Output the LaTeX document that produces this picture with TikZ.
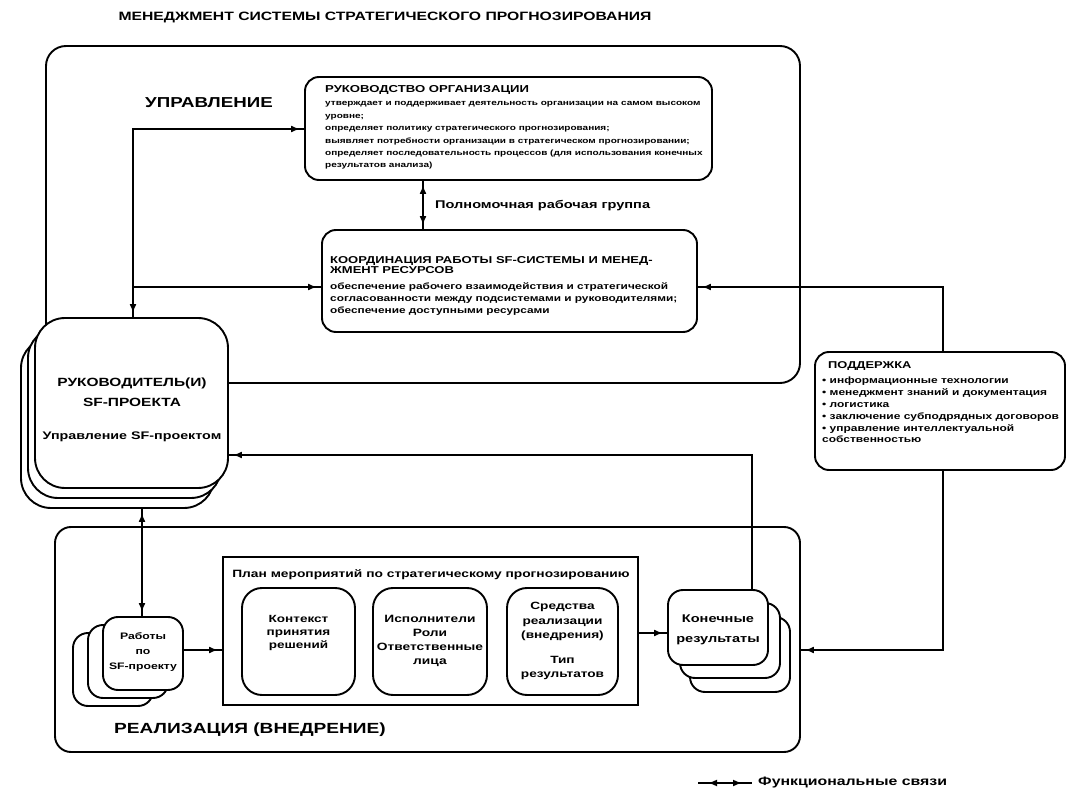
\documentclass[tikz,border=0pt]{standalone}
\usepackage{fontspec}
\setmainfont{Liberation Sans}[FakeStretch=1.3]
\usetikzlibrary{arrows.meta,decorations.markings}
\newcommand{\fs}[2]{\fontsize{#1}{#2}\selectfont}
\tikzset{
  frame/.style={draw, line width=1.9pt, rounded corners=#1, fill=white, inner sep=0pt},
  frame/.default=14pt,
  txt/.style={inner sep=0pt, font=\bfseries},
  tipA/.tip={Latex[length=9pt,width=7pt]},
  aend/.style={decoration={markings, mark=at position -4pt with {\arrow{tipA}}}, postaction={decorate}},
  astart/.style={decoration={markings, mark=at position 4pt with {\arrowreversed{tipA}}}, postaction={decorate}},
  aboth/.style={decoration={markings, mark=at position 4pt with {\arrowreversed{tipA}}, mark=at position -4pt with {\arrow{tipA}}}, postaction={decorate}},
  alegend/.style={decoration={markings, mark=at position 10pt with {\arrowreversed{tipA}}, mark=at position -10pt with {\arrow{tipA}}}, postaction={decorate}},
  conn/.style={draw, line width=1.8pt},
}
\begin{document}
\begin{tikzpicture}[x=1pt,y=-1pt]
\useasboundingbox (0,0) rectangle (1069,794);
\fill[white] (0,0) rectangle (1069,794);

% containers
\node[frame=20pt, minimum width=754pt, minimum height=337pt] (upper) at (423,214.5) {};
\node[frame=16pt, minimum width=745pt, minimum height=225pt] (lower) at (427.5,639.5) {};

% title and section labels
\node[txt, font=\bfseries\fs{12.1}{14}] (title) at (385,17) {МЕНЕДЖМЕНТ СИСТЕМЫ СТРАТЕГИЧЕСКОГО ПРОГНОЗИРОВАНИЯ};
\node[txt, font=\bfseries\fs{14.4}{16}] (upr) at (209,103) {УПРАВЛЕНИЕ};
\node[txt, font=\bfseries\fs{14.7}{16}] (real) at (250,730) {РЕАЛИЗАЦИЯ (ВНЕДРЕНИЕ)};

% box 1
\node[frame, minimum width=407pt, minimum height=103pt] (b1) at (508.5,128.5) {};
\node[txt, anchor=west, font=\bfseries\fs{10.1}{12}] (b1h) at (325,90) {РУКОВОДСТВО ОРГАНИЗАЦИИ};
\node[txt, anchor=north west, align=left, font=\bfseries\fs{7.7}{12.4}] (b1t) at (325,101.5) {утверждает и поддерживает деятельность организации на самом высоком\\
уровне;\\
определяет политику стратегического прогнозирования;\\
выявляет потребности организации в стратегическом прогнозировании;\\
определяет последовательность процессов (для использования конечных\\
результатов анализа)};

% box 2
\node[frame, minimum width=375pt, minimum height=102pt] (b2) at (509.5,281) {};
\node[txt, anchor=north west, align=left, font=\bfseries\fs{10}{10.5}] (b2h) at (330,256) {КООРДИНАЦИЯ РАБОТЫ SF-СИСТЕМЫ И МЕНЕД-\\ЖМЕНТ РЕСУРСОВ};
\node[txt, anchor=north west, align=left, font=\bfseries\fs{9.1}{12}] (b2t) at (330,283) {обеспечение рабочего взаимодействия и стратегической\\
согласованности между подсистемами и руководителями;\\
обеспечение доступными ресурсами};

\node[txt, anchor=west, font=\bfseries\fs{11.2}{13}] (pwg) at (435,206) {Полномочная рабочая группа};

% support
\node[frame, minimum width=250pt, minimum height=118pt] (sup) at (940,411) {};
\node[txt, anchor=west, font=\bfseries\fs{9.9}{12}] (suph) at (828,366) {ПОДДЕРЖКА};
\node[txt, anchor=north west, align=left, font=\bfseries\fs{9.2}{11.8}] (supt) at (822,377) {• информационные технологии\\
• менеджмент знаний и документация\\
• логистика\\
• заключение субподрядных договоров\\
• управление интеллектуальной\\
собственностью};

% RUK stack
\node[frame=30pt, minimum width=193pt, minimum height=170pt] (rukc) at (117.5,423) {};
\node[frame=30pt, minimum width=193pt, minimum height=170pt] (rukb) at (124.5,413) {};
\node[frame=30pt, minimum width=193pt, minimum height=170pt] (ruk) at (131.5,403) {};
\node[txt, align=center, font=\bfseries\fs{11.9}{20}] (rukt) at (132,392) {РУКОВОДИТЕЛЬ(И)\\SF-ПРОЕКТА};
\node[txt, font=\bfseries\fs{11}{12}] (rukm) at (132,437) {Управление SF-проектом};

% work stack
\node[frame=15pt, minimum width=80pt, minimum height=73pt] (rabc) at (113,669.5) {};
\node[frame=15pt, minimum width=80pt, minimum height=73pt] (rabb) at (128,661.5) {};
\node[frame=15pt, minimum width=80pt, minimum height=73pt] (rab) at (143,653.5) {};
\node[txt, align=center, font=\bfseries\fs{9.4}{15}] (rabt) at (143,652) {Работы\\по\\SF-проекту};

% plan
\node[draw, line width=1.9pt, minimum width=415pt, minimum height=148pt, inner sep=0pt] (plan) at (430.5,631) {};
\node[txt, font=\bfseries\fs{10.6}{12}] (plant) at (431,575) {План мероприятий по стратегическому прогнозированию};
\node[frame=20pt, minimum width=113pt, minimum height=107pt] (pa) at (298.5,641.5) {};
\node[frame=20pt, minimum width=114pt, minimum height=107pt] (pb) at (430,641.5) {};
\node[frame=20pt, minimum width=111pt, minimum height=107pt] (pc) at (562.5,641.5) {};
\node[txt, align=center, font=\bfseries\fs{10.4}{13}] (pat) at (298.5,633) {Контекст\\принятия\\решений};
\node[txt, align=center, font=\bfseries\fs{10.6}{14}] (pbt) at (430,641) {Исполнители\\Роли\\Ответственные\\лица};
\node[txt, align=center, font=\bfseries\fs{10.5}{14.5}] (pct) at (562.5,641) {Средства\\реализации\\(внедрения)\\[10pt]Тип\\результатов};

% final results stack
\node[frame=15pt, minimum width=100pt, minimum height=75pt] (konc) at (740,654.5) {};
\node[frame=15pt, minimum width=100pt, minimum height=75pt] (konb) at (730,640.5) {};
\node[frame=15pt, minimum width=100pt, minimum height=75pt] (kon) at (718,627.5) {};
\node[txt, align=center, font=\bfseries\fs{11.2}{20}] (kont) at (718,630) {Конечные\\результаты};

% connectors
\coordinate (j1) at (133,129);
\coordinate (j2) at (133,287);
\coordinate (j3) at (423,205);
\coordinate (j4) at (943,287);
\coordinate (j5) at (943,650);
\coordinate (j6) at (752,455);
\coordinate (j7) at (142,560);
\coordinate (j8) at (200,650);
\coordinate (j9) at (650,633);

\draw[conn, aboth] (b1.west |- j1) -- (j1) -- (j1 |- ruk.north);
\draw[conn, aend] (j2) -- (j2 -| b2.west);
\draw[conn, aboth] (j3 |- b1.south) -- (j3 |- b2.north);
\draw[conn, astart] (j4 -| b2.east) -- (j4) -- (j4 |- sup.north);
\draw[conn, aend] (j5 |- sup.south) -- (j5) -- (j5 -| lower.east);
\draw[conn, aend] (j6 |- kon.north) -- (j6) -- (j6 -| ruk.east);
\draw[conn, aboth] (j7 |- rukc.south) -- (j7 |- rab.north);
\draw[conn, aend] (j8 -| rab.east) -- (j8 -| plan.west);
\draw[conn, aend] (j9 -| plan.east) -- (j9 -| kon.west);

% legend
\coordinate (lg1) at (698,783);
\coordinate (lg2) at (752,783);
\draw[conn, alegend] (lg1) -- (lg2);
\node[txt, anchor=west, font=\bfseries\fs{12.2}{14}] (lgt) at (758,783) {Функциональные связи};
\end{tikzpicture}
\end{document}
